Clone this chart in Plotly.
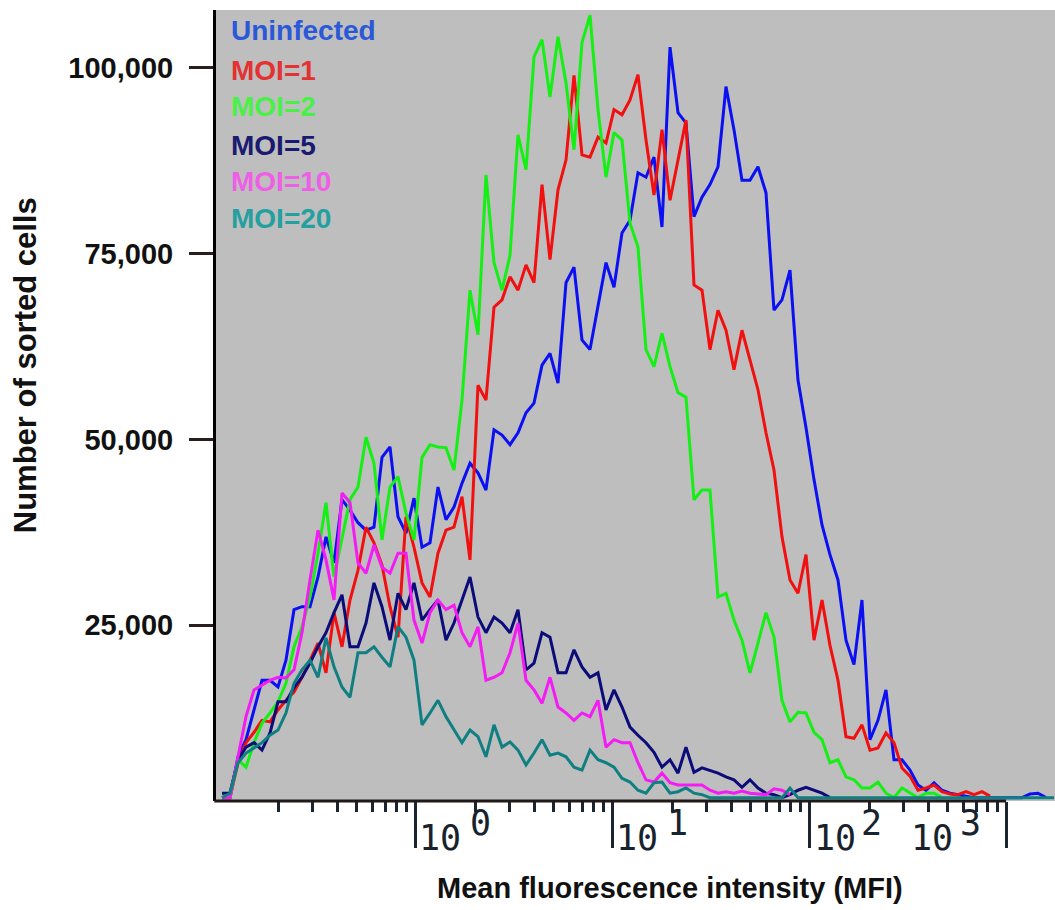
import math
import plotly.graph_objects as go

# MFI channel positions (shared x for all histograms)
mfi = [0.1036, 0.1137, 0.1249, 0.1371, 0.1506, 0.1653, 0.1815, 0.1993, 0.2188, 0.2403,
       0.2638, 0.2897, 0.3181, 0.3493, 0.3835, 0.4211, 0.4624, 0.5077, 0.5574, 0.6120,
       0.6720, 0.7379, 0.8102, 0.8897, 0.9769, 1.073, 1.178, 1.293, 1.420, 1.559,
       1.712, 1.880, 2.064, 2.266, 2.489, 2.733, 3.001, 3.295, 3.618, 3.972,
       4.362, 4.789, 5.259, 5.774, 6.340, 6.961, 7.643, 8.393, 9.215, 10.12,
       11.11, 12.20, 13.39, 14.71, 16.15, 17.73, 19.47, 21.38, 23.47, 25.77,
       28.30, 31.07, 34.12, 37.46, 41.13, 45.16, 49.59, 54.45, 59.79, 65.65,
       72.08, 79.15, 86.90, 95.42, 104.8, 115.1, 126.3, 138.7, 152.3, 167.2,
       183.6, 201.6, 221.4, 243.1, 266.9, 293.1, 321.8, 353.4, 388.0, 426.1,
       467.8, 513.7, 564.0, 619.3, 680.0, 746.7, 819.9, 900.3, 988.4, 1085,
       1192, 1309, 1437, 1578, 1733]

uninfected = [1800, 1800, 7300, 9600, 13600, 17600, 17600, 16700, 20300, 27100,
              27500, 27500, 31500, 36900, 33400, 41900, 40500, 38800, 37800, 38200,
              47600, 49000, 39600, 37400, 42100, 35500, 36100, 43600, 39200, 40900,
              44100, 46800, 45500, 43200, 51300, 50600, 49300, 50900, 53600, 54900,
              60000, 61600, 57600, 71100, 73200, 63400, 62100, 67800, 73800, 70500,
              77800, 79500, 85900, 85300, 88000, 78600, 102800, 94000, 92600, 80000,
              82600, 84300, 86700, 97500, 91700, 84900, 84900, 86700, 83200, 67400,
              68800, 72800, 58000, 51600, 44600, 38500, 34500, 31100, 23000, 19700,
              28400, 9600, 12200, 16300, 6900, 6900, 5500, 3500, 2800, 3800,
              2800, 2400, 2200, 2000, 1800, 1800, 1800, 1800, 1800, 1800,
              1800, 2300, 2400, 1800]

moi1 = [1800, 1800, 6500, 9200, 10600, 12200, 12000, 13600, 14900, 16000,
        18000, 20300, 22600, 18600, 26700, 22100, 28400, 32400, 38200, 36100,
        33100, 27500, 23400, 39600, 35500, 30700, 28800, 34700, 37800, 38200,
        42300, 33800, 57300, 55300, 67800, 68800, 71900, 70100, 73500, 71100,
        84300, 74200, 83600, 87600, 99000, 88300, 88000, 90700, 89900, 94400,
        93700, 95700, 99100, 90300, 82900, 91700, 82200, 87600, 93000, 70800,
        70100, 62100, 67400, 64700, 59400, 64700, 60700, 56700, 50900, 45900,
        36900, 31100, 29300, 34500, 23000, 28400, 22300, 17600, 10000, 9800,
        11600, 8200, 8500, 10500, 9200, 5800, 4700, 2800, 3100, 3500,
        2600, 2300, 2200, 2600, 2200, 2600, 2000]

moi2 = [1800, 1800, 6900, 5900, 9200, 11800, 13200, 14700, 17200, 22100,
        24800, 28800, 34700, 41500, 31500, 36900, 41900, 43600, 50300, 46800,
        36500, 43600, 45000, 40100, 36500, 47600, 49300, 49000, 48900, 45900,
        55300, 70100, 64100, 85600, 73800, 70100, 74800, 91000, 86300, 101500,
        103800, 96100, 104200, 98000, 89000, 103400, 107100, 94400, 85300, 91300,
        90300, 79100, 75900, 62100, 59800, 64300, 59800, 56300, 55700, 41900,
        43200, 43200, 28800, 29300, 25700, 23000, 18600, 22600, 26700, 23400,
        14900, 12000, 13300, 13200, 10600, 9600, 6500, 6900, 4600, 4200,
        3100, 3100, 3900, 2400, 1800, 3100, 2400, 1800, 2400, 2400,
        1800]

moi5 = [2400, 2400, 6900, 8600, 9200, 8200, 10500, 14700, 14700, 16600,
        18000, 19900, 22100, 24000, 26700, 29100, 22100, 22100, 25300, 30700,
        27500, 23000, 29300, 27100, 30700, 25700, 27100, 28400, 23000, 25300,
        28400, 31500, 26100, 24000, 26100, 25300, 24000, 27100, 19000, 19900,
        24000, 23400, 18600, 18600, 21700, 19400, 18000, 18600, 13600, 16300,
        14000, 11300, 10200, 9200, 7900, 5900, 6900, 5100, 8600, 5200,
        5800, 5500, 5100, 4600, 4200, 3200, 4200, 3100, 2400, 2200,
        1800, 2200, 2800, 3200, 2800, 2400, 1800]

moi10 = [1800, 1800, 7300, 12700, 16300, 17000, 17600, 18000, 17900, 19000,
         24000, 31100, 37800, 33800, 28400, 42800, 41500, 33400, 32000, 35800,
         32800, 32000, 34700, 34700, 25700, 22600, 26700, 28400, 27100, 27700,
         24000, 22100, 24800, 17600, 18000, 18600, 21300, 25300, 17600, 16300,
         14500, 18000, 14000, 13200, 12200, 13200, 12700, 14900, 8600, 9600,
         9200, 9200, 6500, 4200, 3900, 5100, 3800, 3500, 3500, 3500,
         3500, 2800, 2400, 2600, 2400, 2700, 2400, 2300, 2200, 3000,
         2800, 2200]

moi20 = [1800, 2400, 6500, 7800, 8500, 9200, 10200, 10900, 13200, 17200,
         19000, 20300, 18000, 23300, 19400, 16700, 15300, 21300, 21300, 22100,
         20700, 19400, 24800, 23400, 20300, 11600, 13200, 14900, 12700, 10900,
         9200, 10900, 10000, 7300, 11600, 8600, 9300, 8200, 6200, 7800,
         9600, 7500, 7800, 7300, 5900, 5500, 8200, 6900, 6500, 5900,
         4400, 3900, 2800, 2400, 3800, 3900, 2400, 2600, 3100, 2400,
         2200, 1800, 1800, 1800, 1800, 1800, 1800, 1800, 1800, 1800,
         1800, 3100, 1800, 1800, 1800, 1800, 1800, 1800, 1800, 1800,
         1800, 1800, 1800, 1800, 1800, 1800, 1800, 1800, 1800, 1800,
         1800, 1800, 1800, 1800, 1800, 1800, 1800, 1800, 1800, 1800,
         1800, 1800, 1800, 1800, 1800]

series_names = ["Uninfected", "MOI=1", "MOI=2", "MOI=5", "MOI=10", "MOI=20"]
series_values = [uninfected, moi1, moi2, moi5, moi10, moi20]
line_colors = ["#0a10f2", "#f20f0f", "#14f014", "#0b0b7a", "#f41cf4", "#0f7f82"]
label_colors = ["#2a58d8", "#e23232", "#48f048", "#1a1a72", "#ee5ee6", "#24a0a0"]

y_tickvals = [25000, 50000, 75000, 100000]
y_ticktext = ["25,000", "50,000", "75,000", "100,000"]
x_major = [1, 10, 100, 1000]
x_exponents = ["0", "1", "2", "3"]
x_minor = [0.2, 0.3, 0.4, 0.5, 0.6, 0.7, 0.8, 0.9,
           2, 3, 4, 5, 6, 7, 8, 9,
           20, 30, 40, 50, 60, 70, 80, 90,
           200, 300, 400, 500, 600, 700, 800, 900]

fig = go.Figure()
for name, vals, col in zip(series_names, series_values, line_colors):
    fig.add_trace(go.Scatter(
        x=mfi[:len(vals)], y=vals, mode="lines", name=name,
        line=dict(color=col, width=3, shape="linear"),
        showlegend=False, hoverinfo="skip"))

axis_col = "#1c2430"
fig.update_layout(
    width=1055, height=910,
    margin=dict(l=216, r=0, t=10, b=109),
    paper_bgcolor="white",
    plot_bgcolor="#bebebe",
    xaxis=dict(
        type="log", range=[-1.0152, 3.2437], autorange=False,
        tickmode="array", tickvals=x_major, showticklabels=False,
        ticks="outside", ticklen=46, tickwidth=2.5, tickcolor=axis_col,
        minor=dict(tickmode="array", tickvals=x_minor, ticks="outside",
                   ticklen=10, tickwidth=2.5, tickcolor=axis_col, showgrid=False),
        showgrid=False, zeroline=False, showline=False, automargin=False),
    yaxis=dict(
        range=[1350, 107800], autorange=False,
        tickmode="array", tickvals=y_tickvals,
        ticktext=["<b>%s</b>" % t for t in y_ticktext],
        tickfont=dict(family="Liberation Sans, Arial, sans-serif", size=29, color="#111111"),
        ticks="outside", ticklen=24, tickwidth=3, tickcolor="#2a1d1d",
        ticklabelstandoff=10,
        showgrid=False, zeroline=False, showline=True, linewidth=3, linecolor="#000000",
        automargin=False),
)

# x axis baseline (ends at the 10^3 tick as in the original)
fig.add_shape(type="line", xref="paper", yref="paper", x0=-0.002, x1=0.9416, y0=0, y1=0,
              line=dict(color="#231818", width=3))

mono = "DejaVu Sans Mono, monospace"
base_shift = [1, 1, 2, -98]
exp_shift = [52, 52, 49, -49]
for i, (tv, ex) in enumerate(zip(x_major, x_exponents)):
    lx = math.log10(tv)
    fig.add_annotation(x=lx, xref="x", y=-0.0195, yref="paper", text="10",
                       showarrow=False, xanchor="left", yanchor="top", xshift=base_shift[i],
                       font=dict(family=mono, size=35, color="#17222c"))
    fig.add_annotation(x=lx, xref="x", y=-0.0005, yref="paper", text=ex,
                       showarrow=False, xanchor="left", yanchor="top", xshift=exp_shift[i],
                       font=dict(family=mono, size=35, color="#17222c"))

# legend as coloured text
legend_y = [0.9735, 0.9241, 0.8774, 0.8293, 0.7826, 0.7358]
for name, col, ly in zip(series_names, label_colors, legend_y):
    fig.add_annotation(x=0.0155, xref="paper", y=ly, yref="paper", text="<b>%s</b>" % name,
                       showarrow=False, xanchor="left", yanchor="middle",
                       font=dict(family="Liberation Sans, Arial, sans-serif", size=28, color=col))

# axis titles
fig.add_annotation(x=-0.2276, xref="paper", y=0.551, yref="paper",
                   text="<b>Number of sorted cells</b>", textangle=-90, showarrow=False,
                   xanchor="center", yanchor="middle",
                   font=dict(family="Liberation Sans, Arial, sans-serif", size=31, color="#111111"))
fig.add_annotation(x=0.5411, xref="paper", y=-0.0872, yref="paper",
                   text="<b>Mean fluorescence intensity (MFI)</b>", showarrow=False,
                   xanchor="center", yanchor="top",
                   font=dict(family="Liberation Sans, Arial, sans-serif", size=29, color="#111111"))

fig.write_html("out.html")
